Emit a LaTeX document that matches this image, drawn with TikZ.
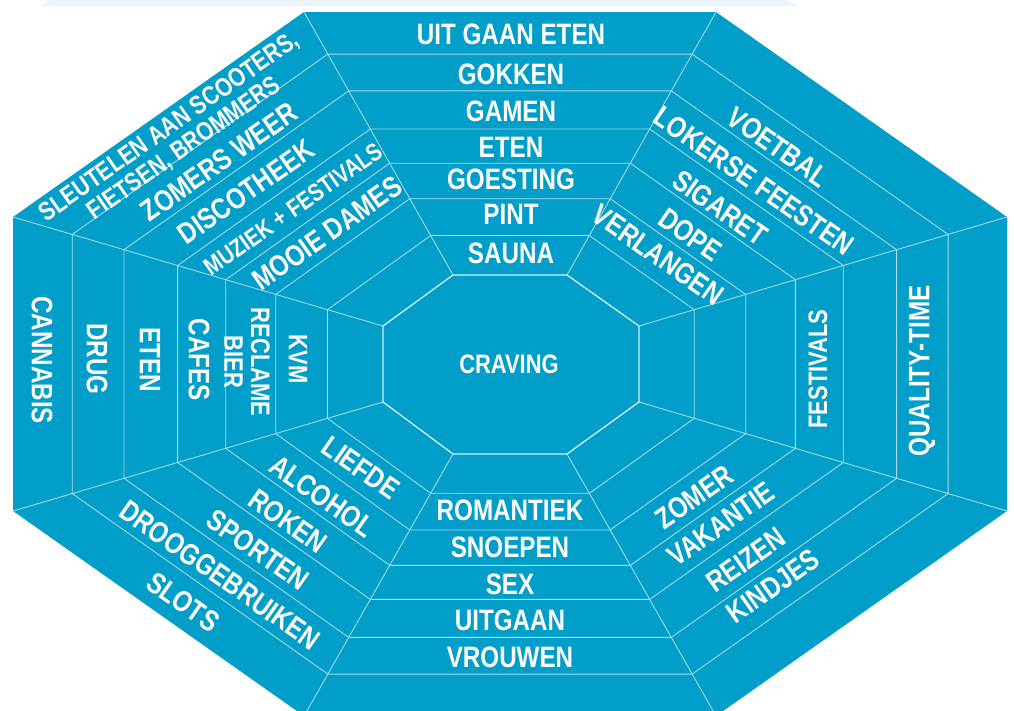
\documentclass[tikz,border=0pt]{standalone}
\usepackage{fontspec}
\usetikzlibrary{calc}
\newfontfamily\webfont[FakeStretch=0.82]{Liberation Sans}
\newcommand\labfont[1]{\webfont\bfseries\fontsize{#1}{#1}\selectfont}
\definecolor{webblue}{RGB}{0,158,200}
\definecolor{webline}{RGB}{170,220,236}
\definecolor{haze}{RGB}{234,244,250}
\tikzset{
  lab/.style={text=white, inner sep=0pt, font=\labfont{21}},
  webedge/.style={draw=webline, line width=0.6pt},
}
\begin{document}
\begin{tikzpicture}[x=0.025cm, y=-0.025cm]
  \useasboundingbox (0,0) rectangle (1014,711);
  \fill[haze] (40,6) -- (50,0) -- (785,0) -- (799,6) -- cycle;
  % outer and inner corners of the web
  \coordinate (o1) at (304,12);  \coordinate (i1) at (453,275);
  \coordinate (o2) at (716,12);  \coordinate (i2) at (567,275);
  \coordinate (o3) at (1007,217); \coordinate (i3) at (639,326);
  \coordinate (o4) at (1007,511); \coordinate (i4) at (639,402);
  \coordinate (o5) at (716,716); \coordinate (i5) at (567,454);
  \coordinate (o6) at (304,716); \coordinate (i6) at (453,454);
  \coordinate (o7) at (13,511);  \coordinate (i7) at (383,402);
  \coordinate (o8) at (13,217);  \coordinate (i8) at (383,326);
  \fill[webblue] (o1) -- (o2) -- (o3) -- (o4) -- (o5) -- (o6) -- (o7) -- (o8) -- cycle;
  \foreach \k in {1,...,8}
    \path (i\k) edge[webedge] (o\k);
  \foreach \t in {0.15,0.29,0.425,0.555,0.70,0.84}
    \draw[webedge] ($(i1)!\t!(o1)$) -- ($(i2)!\t!(o2)$) -- ($(i3)!\t!(o3)$) -- ($(i4)!\t!(o4)$)
      -- ($(i5)!\t!(o5)$) -- ($(i6)!\t!(o6)$) -- ($(i7)!\t!(o7)$) -- ($(i8)!\t!(o8)$) -- cycle;
  \draw[white!85!webblue, line width=0.9pt] (i1) -- (i2) -- (i3) -- (i4) -- (i5) -- (i6) -- (i7) -- (i8) -- cycle;
  \node[lab, font=\labfont{19}] (craving) at (509,364) {CRAVING};
  \begin{scope}[every node/.style={lab}]
    \node (uit) at (511,34) {UIT GAAN ETEN};
    \node (gokken) at (511,74) {GOKKEN};
    \node (gamen) at (511,111) {GAMEN};
    \node (eten) at (511,147) {ETEN};
    \node (goesting) at (511,179) {GOESTING};
    \node (pint) at (511,214) {PINT};
    \node (sauna) at (511,253) {SAUNA};
    \node (romantiek) at (510,510) {ROMANTIEK};
    \node (snoepen) at (510,547) {SNOEPEN};
    \node (sex) at (510,584) {SEX};
    \node (uitgaan) at (510,620) {UITGAAN};
    \node (vrouwen) at (510,657) {VROUWEN};
  \end{scope}
  \begin{scope}[every node/.style={lab, rotate=-90}]
    \node (cannabis) at (42,360) {CANNABIS};
    \node (drug) at (97,359) {DRUG};
    \node (eten2) at (150,360) {ETEN};
    \node (cafes) at (199,360) {CAFES};
    \node[font=\labfont{19}, align=center] (reclame) at (247,362) {RECLAME\\BIER};
    \node[font=\labfont{19}] (kvm) at (298,359) {KVM};
  \end{scope}
  \begin{scope}[every node/.style={lab, rotate=90}]
    \node[font=\labfont{19}] (festivals) at (818,369) {FESTIVALS};
    \node (quality) at (922,371) {QUALITY-TIME};
  \end{scope}
  \begin{scope}[every node/.style={lab, rotate=35}]
    \node[font=\labfont{18.5}, align=center] (sleutelen) at (177,138) {SLEUTELEN AAN SCOOTERS,\\FIETSEN, BROMMERS};
    \node (zomersweer) at (219,162) {ZOMERS WEER};
    \node (disco) at (246,192) {DISCOTHEEK};
    \node[font=\labfont{17.6}] (muziek) at (293,209) {MUZIEK + FESTIVALS};
    \node (mooie) at (327,233) {MOOIE DAMES};
    \node (zomer) at (694,497) {ZOMER};
    \node (vakantie) at (721,524) {VAKANTIE};
    \node (reizen) at (746,560) {REIZEN};
    \node (kindjes) at (773,586) {KINDJES};
  \end{scope}
  \begin{scope}[every node/.style={lab, rotate=-35}]
    \node (voetbal) at (778,147) {VOETBAL};
    \node (lokerse) at (754,181) {LOKERSE FEESTEN};
    \node (sigaret) at (720,208) {SIGARET};
    \node (dope) at (690,235) {DOPE};
    \node (verlangen) at (658,255) {VERLANGEN};
    \node (liefde) at (361,468) {LIEFDE};
    \node (alcohol) at (322,496) {ALCOHOL};
    \node (roken) at (288,521) {ROKEN};
    \node (sporten) at (258,550) {SPORTEN};
    \node (droog) at (220,575) {DROOGGEBRUIKEN};
    \node (slots) at (183,602) {SLOTS};
  \end{scope}
\end{tikzpicture}
\end{document}
